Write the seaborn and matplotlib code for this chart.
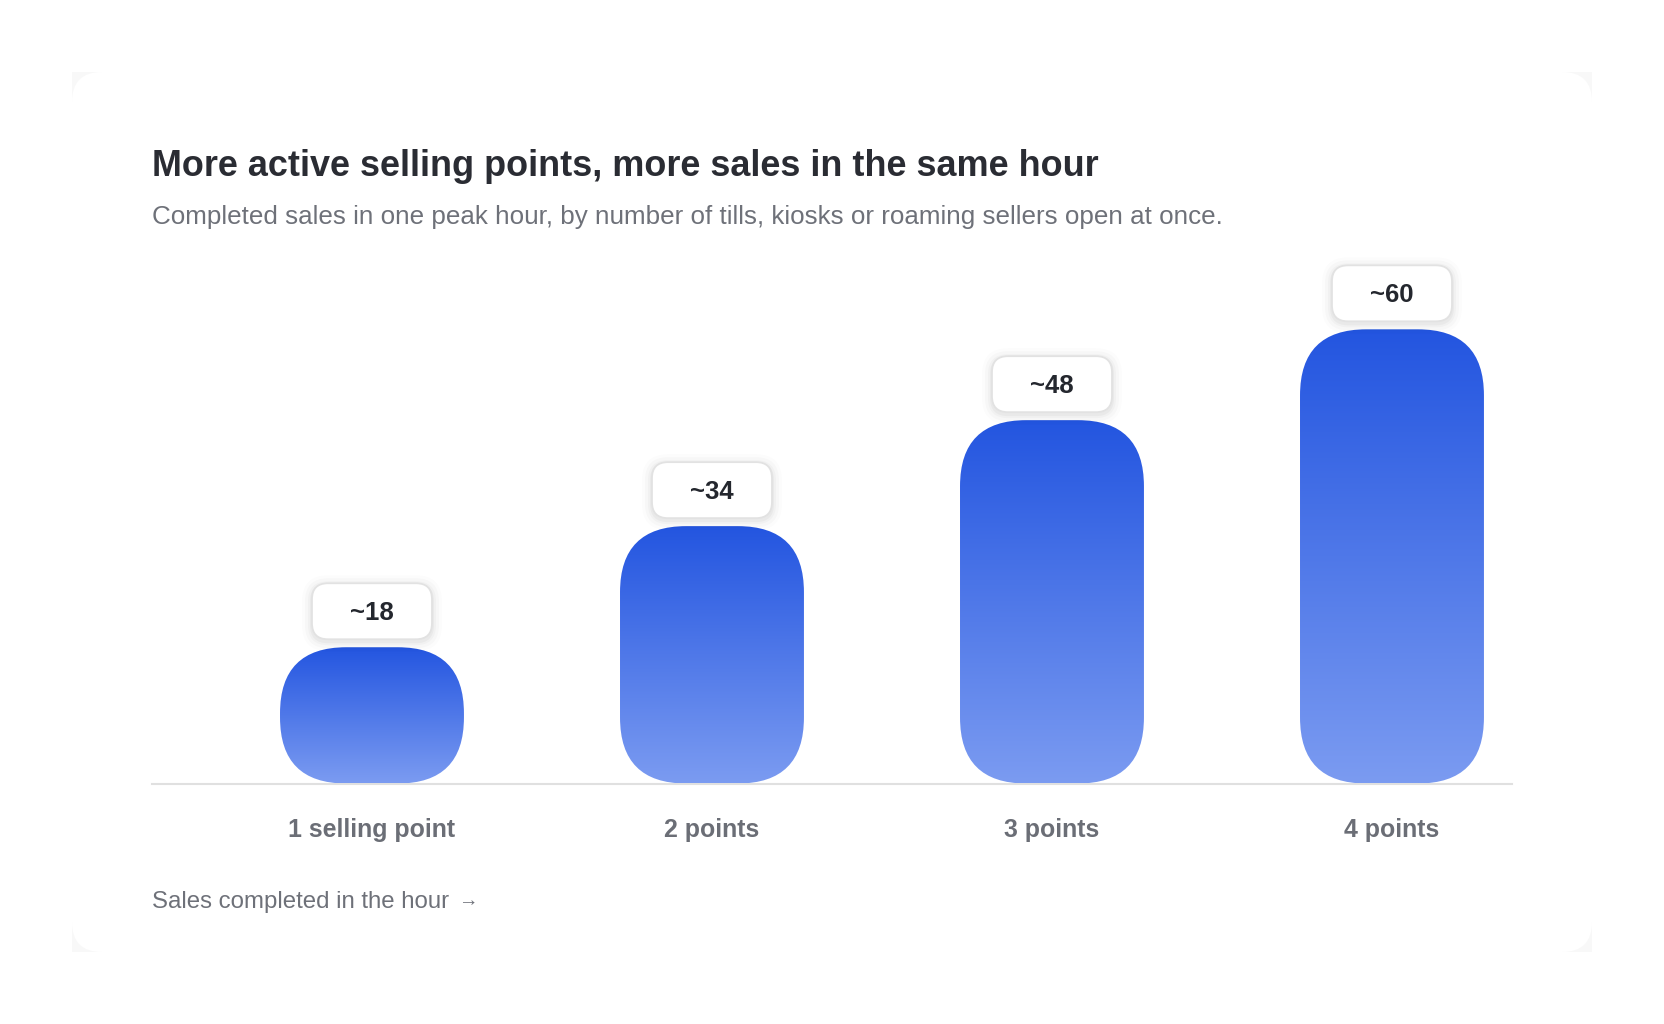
import numpy as np
import pandas as pd
import matplotlib
matplotlib.use("Agg")
import matplotlib.pyplot as plt
import matplotlib.patches as mpatches
from matplotlib.transforms import IdentityTransform
from matplotlib.colors import LinearSegmentedColormap
import seaborn as sns

# ---------------- data ----------------
categories = ["1 selling point", "2 points", "3 points", "4 points"]
sales = [18, 34, 48, 60]
value_labels = ["~18", "~34", "~48", "~60"]
title = "More active selling points, more sales in the same hour"
subtitle = ("Completed sales in one peak hour, by number of tills, kiosks "
            "or roaming sellers open at once.")
footer = "Sales completed in the hour"

# ---------------- setup ----------------
W, H, DPI = 1664, 1024, 100
sns.set_theme(style="white")
plt.rcParams["font.family"] = ["Liberation Sans", "DejaVu Sans"]

fig = plt.figure(figsize=(W / DPI, H / DPI), dpi=DPI)
fig.patch.set_facecolor("white")


def fx(px):
    return px / W


def fy(py):
    return 1 - py / H


# card background (faint square + white rounded card)
sq = mpatches.Rectangle((72, H - 952), 1520, 880, transform=IdentityTransform(),
                        facecolor="#f8f8f8", edgecolor="none", zorder=-2)
fig.add_artist(sq)
card = mpatches.FancyBboxPatch((72, H - 952), 1520, 880,
                               boxstyle="round,pad=0,rounding_size=30",
                               transform=IdentityTransform(),
                               facecolor="white", edgecolor="none", zorder=-1)
fig.add_artist(card)

# ---------------- chart axes ----------------
base_px, top_px = 783.5, 238.5
XLIM = (-0.647, 3.353)
ax = fig.add_axes([fx(152), fy(base_px), (1512 - 152) / W, (base_px - top_px) / H])
ax.set_facecolor("none")
ax.set_zorder(1)

df = pd.DataFrame({"category": categories, "sales": sales})
sns.barplot(data=df, x="category", y="sales", ax=ax, width=0.541,
            color="#2355e0", errorbar=None)
ax.set_xlim(*XLIM)
ax.set_ylim(0, 72)

cmap = LinearSegmentedColormap.from_list("bar", ["#2355e0", "#7b9bf1"])
grad = np.linspace(1, 0, 256).reshape(-1, 1)

for i, p in enumerate(list(ax.patches)):
    p.set_alpha(0)
    x0, w, v = p.get_x(), p.get_width(), p.get_height()
    (dx0, dy0) = ax.transData.transform((x0, 0))
    (dx1, dy1) = ax.transData.transform((x0 + w, v))
    pw, ph = dx1 - dx0, dy1 - dy0
    r = min(66, pw / 2, ph / 2)
    shape = mpatches.FancyBboxPatch((dx0, dy0), pw, ph,
                                    boxstyle=f"round,pad=0,rounding_size={r}",
                                    transform=IdentityTransform(),
                                    facecolor="none", edgecolor="none")
    im = ax.imshow(grad, extent=[x0, x0 + w, 0, v], aspect="auto",
                   cmap=cmap, origin="lower", zorder=2, interpolation="bilinear")
    im.set_clip_path(shape)

    # value pill
    cx = (dx0 + dx1) / 2
    bw, bh, gap = 120, 56, 8
    bx, by = cx - bw / 2, dy1 + gap
    for k, a in [(10, 0.012), (7, 0.018), (4, 0.025), (2, 0.03)]:
        sh = mpatches.FancyBboxPatch((bx - k, by - k - 2), bw + 2 * k, bh + 2 * k,
                                     boxstyle=f"round,pad=0,rounding_size={16 + k}",
                                     transform=IdentityTransform(),
                                     facecolor="black", alpha=a, edgecolor="none",
                                     zorder=3)
        ax.add_artist(sh)
    pill = mpatches.FancyBboxPatch((bx, by), bw, bh,
                                   boxstyle="round,pad=0,rounding_size=16",
                                   transform=IdentityTransform(),
                                   facecolor="white", edgecolor="#e2e2e2",
                                   linewidth=1.3, zorder=4)
    ax.add_artist(pill)
    ax.annotate(value_labels[i], xy=(i, v), xytext=(0, (gap + bh / 2 - 8.5) * 72 / DPI),
                textcoords="offset points", ha="center", va="baseline",
                fontsize=18.5, fontweight="bold", color="#24272e", zorder=5,
                annotation_clip=False)

ax.set_xlim(*XLIM)
ax.set_ylim(0, 72)

# axes styling
for s in ["top", "left", "right"]:
    ax.spines[s].set_visible(False)
ax.spines["bottom"].set_color("#e0e0e0")
ax.spines["bottom"].set_linewidth(1.5)
ax.spines["bottom"].set_zorder(1)
ax.set_yticks([])
ax.set_xlabel("")
ax.set_ylabel("")
ax.tick_params(axis="x", length=0, pad=24.5, labelsize=17.9, labelcolor="#6b6e76")
for t in ax.get_xticklabels():
    t.set_fontweight("bold")

# ---------------- texts ----------------
fig.text(fx(152), fy(175.7), title, fontsize=25.9, fontweight="bold",
         color="#2a2c33", va="baseline", ha="left")
fig.text(fx(152), fy(224), subtitle, fontsize=18.7, color="#6e7179",
         va="baseline", ha="left")
fig.text(fx(152), fy(908), footer, fontsize=17.3, color="#6e7179",
         va="baseline", ha="left")
fig.text(fx(458), fy(906), "\u2192", fontsize=14, color="#6e7179",
         va="baseline", ha="left")

fig.savefig("out.png", dpi=DPI, facecolor="white")
